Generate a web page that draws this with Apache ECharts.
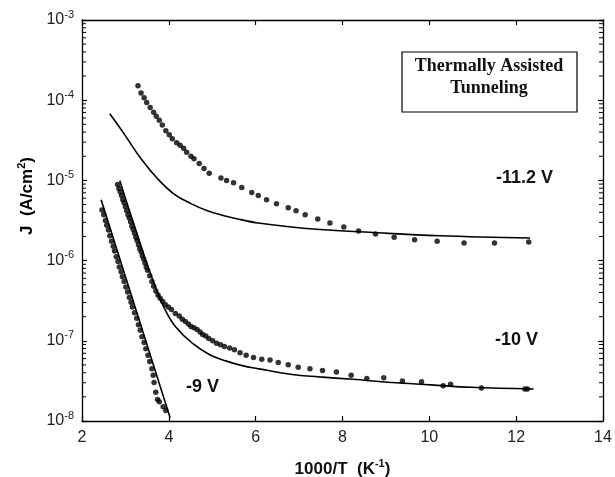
<!DOCTYPE html>
<html>
<head>
<meta charset="utf-8">
<script src="https://cdn.jsdelivr.net/npm/echarts@6/dist/echarts.min.js"></script>
<style>
html, body { margin: 0; padding: 0; background: #fff; }
#chart { width: 615px; height: 477px; }
</style>
</head>
<body>
<div id="chart"></div>
<script>
// values: x = 1000/T (1/K), y = J (A/cm2)

// -11.2 V measured points
var dotsAX = [3.29, 3.36, 3.43, 3.49, 3.57, 3.65, 3.71, 3.78, 3.85, 3.93, 4.01, 4.08, 4.18, 4.26, 4.34, 4.41, 4.51, 4.58, 4.70, 4.81, 4.93, 5.20, 5.33, 5.49, 5.68, 5.91, 6.06, 6.25, 6.48, 6.75, 6.93, 7.14, 7.43, 7.71, 8.03, 8.37, 8.76, 9.19, 9.66, 10.18, 10.80, 11.50, 12.29];
var dotsAY = [1.51e-4, 1.23e-4, 1.07e-4, 9.33e-5, 8.13e-5, 7.08e-5, 6.31e-5, 5.62e-5, 4.90e-5, 4.17e-5, 3.72e-5, 3.31e-5, 2.95e-5, 2.75e-5, 2.51e-5, 2.24e-5, 2.00e-5, 1.86e-5, 1.62e-5, 1.41e-5, 1.23e-5, 1.07e-5, 1.00e-5, 9.33e-6, 8.13e-6, 7.08e-6, 6.46e-6, 5.75e-6, 5.13e-6, 4.57e-6, 4.17e-6, 3.72e-6, 3.31e-6, 2.95e-6, 2.63e-6, 2.34e-6, 2.14e-6, 1.95e-6, 1.82e-6, 1.74e-6, 1.66e-6, 1.66e-6, 1.70e-6];
// -11.2 V model curve
var fitAX = [2.64, 2.97, 3.36, 3.74, 4.12, 4.51, 4.89, 5.27, 5.66, 6.04, 7.17, 8.71, 10.24, 12.32];
var fitAY = [6.76e-5, 3.80e-5, 1.86e-5, 1.05e-5, 6.76e-6, 5.13e-6, 4.17e-6, 3.63e-6, 3.24e-6, 2.95e-6, 2.51e-6, 2.24e-6, 2.04e-6, 1.91e-6];

// -10 V measured points
var dotsBX = [2.82, 2.85, 2.88, 2.91, 2.94, 2.97, 3.00, 3.03, 3.06, 3.09, 3.12, 3.15, 3.18, 3.21, 3.24, 3.27, 3.30, 3.33, 3.36, 3.39, 3.42, 3.45, 3.48, 3.51, 3.56, 3.61, 3.65, 3.70, 3.75, 3.80, 3.86, 3.92, 3.99, 4.06, 4.15, 4.24, 4.31, 4.38, 4.45, 4.51, 4.58, 4.65, 4.72, 4.78, 4.85, 4.92, 5.01, 5.10, 5.19, 5.28, 5.40, 5.51, 5.64, 5.78, 5.95, 6.14, 6.33, 6.52, 6.75, 6.98, 7.25, 7.54, 7.86, 8.20, 8.56, 8.95, 9.38, 9.82, 10.32, 10.49, 11.20, 12.20, 12.26];
var dotsBY = [8.91e-6, 7.94e-6, 7.24e-6, 6.46e-6, 5.75e-6, 5.25e-6, 4.68e-6, 4.17e-6, 3.72e-6, 3.39e-6, 3.02e-6, 2.69e-6, 2.45e-6, 2.19e-6, 1.95e-6, 1.78e-6, 1.58e-6, 1.41e-6, 1.29e-6, 1.15e-6, 1.05e-6, 9.33e-7, 8.32e-7, 7.59e-7, 6.46e-7, 5.50e-7, 4.79e-7, 4.17e-7, 3.72e-7, 3.39e-7, 3.09e-7, 2.82e-7, 2.63e-7, 2.45e-7, 2.19e-7, 2.04e-7, 1.86e-7, 1.74e-7, 1.62e-7, 1.51e-7, 1.45e-7, 1.38e-7, 1.29e-7, 1.20e-7, 1.15e-7, 1.07e-7, 1.00e-7, 9.33e-8, 8.91e-8, 8.51e-8, 8.13e-8, 7.76e-8, 7.08e-8, 6.61e-8, 6.17e-8, 5.89e-8, 5.75e-8, 5.37e-8, 5.01e-8, 4.68e-8, 4.47e-8, 4.27e-8, 4.07e-8, 3.72e-8, 3.39e-8, 3.47e-8, 3.16e-8, 3.09e-8, 2.75e-8, 2.88e-8, 2.57e-8, 2.51e-8, 2.51e-8];
// -10 V model curve
var fitBX = [2.87, 3.01, 3.24, 3.47, 3.70, 3.93, 4.15, 4.54, 4.93, 5.31, 5.69, 6.08, 6.84, 7.46, 8.23, 9.13, 10.04, 10.95, 12.40];
var fitBY = [1.00e-5, 5.75e-6, 2.40e-6, 1.00e-6, 4.57e-7, 2.34e-7, 1.51e-7, 9.33e-8, 6.76e-8, 5.62e-8, 4.90e-8, 4.47e-8, 3.80e-8, 3.55e-8, 3.31e-8, 3.02e-8, 2.82e-8, 2.63e-8, 2.51e-8];

// -9 V measured points
var dotsCX = [2.46, 2.50, 2.54, 2.57, 2.61, 2.64, 2.68, 2.72, 2.75, 2.79, 2.83, 2.86, 2.90, 2.93, 2.97, 3.01, 3.05, 3.09, 3.13, 3.16, 3.21, 3.26, 3.30, 3.34, 3.38, 3.43, 3.47, 3.52, 3.56, 3.61, 3.64, 3.66, 3.70, 3.74, 3.78, 3.87, 3.93];
var dotsCY = [4.27e-6, 3.72e-6, 3.16e-6, 2.75e-6, 2.40e-6, 2.04e-6, 1.74e-6, 1.51e-6, 1.32e-6, 1.12e-6, 9.77e-7, 8.32e-7, 7.24e-7, 6.31e-7, 5.50e-7, 4.68e-7, 4.07e-7, 3.47e-7, 3.02e-7, 2.63e-7, 2.24e-7, 1.91e-7, 1.58e-7, 1.35e-7, 1.12e-7, 9.55e-8, 7.94e-8, 6.61e-8, 5.50e-8, 4.47e-8, 3.72e-8, 3.02e-8, 2.29e-8, 1.86e-8, 1.74e-8, 1.51e-8, 1.35e-8];
// -9 V model line
var fitCX = [2.44, 3.24, 4.03];
var fitCY = [5.75e-6, 2.45e-7, 1.10e-8];

var xTicks = [2, 14, 2];           // min, max, step
var yRange = [1e-8, 1e-3];
// minor ticks of the log axis (2..9 in every decade)
var yMinorTicks = [
    2e-8, 3e-8, 4e-8, 5e-8, 6e-8, 7e-8, 8e-8, 9e-8,
    2e-7, 3e-7, 4e-7, 5e-7, 6e-7, 7e-7, 8e-7, 9e-7,
    2e-6, 3e-6, 4e-6, 5e-6, 6e-6, 7e-6, 8e-6, 9e-6,
    2e-5, 3e-5, 4e-5, 5e-5, 6e-5, 7e-5, 8e-5, 9e-5,
    2e-4, 3e-4, 4e-4, 5e-4, 6e-4, 7e-4, 8e-4, 9e-4
];

var SANS = 'Liberation Sans, Arial, sans-serif';
var SERIF = 'Liberation Serif, Times New Roman, serif';

function pairs(xs, ys){
    var out = [];
    for(var i=0; i<xs.length; i++){
        out.push([xs[i], ys[i]]);
    }
    return out;
}

//10^n tick label
function expLabel(v){
    var e = Math.round(Math.log(v)/Math.LN10);
    return '{b|10}{s|' + e + '}';
}

var tickRich = {
    b: {fontSize: 16, color: '#222', fontFamily: SANS, lineHeight: 22},
    s: {fontSize: 11, color: '#222', fontFamily: SANS, lineHeight: 12, verticalAlign: 'top'}
};
var nameRich = {
    a: {fontSize: 17, fontWeight: 'bold', color: '#111', fontFamily: SANS, lineHeight: 22},
    s: {fontSize: 11, fontWeight: 'bold', color: '#111', fontFamily: SANS, lineHeight: 12, verticalAlign: 'top'}
};

var frameLine = {lineStyle: {color: '#000', width: 1.3}};
var inTick = {inside: true, length: 5, lineStyle: {color: '#000', width: 1.2}};

function lineSeries(xs, ys, smooth){
    return {
        type: 'line',
        data: pairs(xs, ys),
        showSymbol: false,
        smooth: smooth,
        lineStyle: {color: '#000', width: 1.6},
        z: 3
    };
}
function dotSeries(xs, ys){
    return {
        type: 'scatter',
        data: pairs(xs, ys),
        symbol: 'circle',
        symbolSize: 5.5,
        itemStyle: {color: '#000'},
        z: 4
    };
}

//log minor ticks on both vertical frame lines
var minorTickSeries = {
    type: 'custom',
    silent: true,
    clip: false,
    z: 5,
    encode: {x: 0, y: 1},
    data: yMinorTicks.map(function(v){ return [xTicks[0], v]; }),
    renderItem: function(params, api){
        var v = api.value(1);
        var pl = api.coord([xTicks[0], v]);
        var pr = api.coord([xTicks[1], v]);
        var st = {stroke: '#000', lineWidth: 1, fill: null};
        return {
            type: 'group',
            children: [
                {type: 'line', shape: {x1: pl[0], y1: pl[1], x2: pl[0] + 4, y2: pl[1]}, style: st},
                {type: 'line', shape: {x1: pr[0] - 4, y1: pr[1], x2: pr[0], y2: pr[1]}, style: st}
            ]
        };
    }
};

var chart = echarts.init(document.getElementById('chart'));
var option = {
    animation: false,
    backgroundColor: '#fff',
    grid: {left: 82, right: 12, top: 20, bottom: 56, containLabel: false, outerBoundsMode: 'none'},
    xAxis: [{
        type: 'value', min: xTicks[0], max: xTicks[1], interval: xTicks[2],
        position: 'bottom',
        axisLine: frameLine, axisTick: inTick,
        axisLabel: {fontSize: 16, color: '#222', fontFamily: SANS, margin: 9},
        splitLine: {show: false},
        name: '{a|1000/T  (K}{s|-1}{a|)}',
        nameLocation: 'middle', nameGap: 37,
        nameTextStyle: {rich: nameRich}
    }, {
        type: 'value', min: xTicks[0], max: xTicks[1], interval: xTicks[2],
        position: 'top',
        axisLine: frameLine, axisTick: inTick,
        axisLabel: {show: false}, splitLine: {show: false}
    }],
    yAxis: [{
        type: 'log', logBase: 10, min: yRange[0], max: yRange[1],
        position: 'left',
        axisLine: {show: true, lineStyle: {color: '#000', width: 1.3}},
        axisTick: inTick,
        axisLabel: {formatter: expLabel, rich: tickRich, margin: 8},
        splitLine: {show: false}
    }, {
        type: 'log', logBase: 10, min: yRange[0], max: yRange[1],
        position: 'right',
        axisLine: {show: true, lineStyle: {color: '#000', width: 1.3}},
        axisTick: inTick,
        axisLabel: {show: false},
        splitLine: {show: false}
    }],
    series: [
        minorTickSeries,
        lineSeries(fitAX, fitAY, 0.4),
        lineSeries(fitBX, fitBY, 0.4),
        lineSeries(fitCX, fitCY, false),
        dotSeries(dotsAX, dotsAY),
        dotSeries(dotsBX, dotsBY),
        dotSeries(dotsCX, dotsCY)
    ],
    graphic: [
        {type: 'rect', shape: {x: 402, y: 52, width: 175, height: 60},
            style: {fill: '#fff', stroke: '#000', lineWidth: 1.2}, z: 10},
        {type: 'text', x: 489, y: 66, z: 11,
            style: {text: 'Thermally Assisted', font: 'bold 18px ' + SERIF, fill: '#111', align: 'center', verticalAlign: 'middle', textAlign: 'center', textVerticalAlign: 'middle'}},
        {type: 'text', x: 489, y: 88, z: 11,
            style: {text: 'Tunneling', font: 'bold 18px ' + SERIF, fill: '#111', align: 'center', verticalAlign: 'middle', textAlign: 'center', textVerticalAlign: 'middle'}},
        {type: 'text', x: 496, y: 178, z: 11,
            style: {text: '-11.2 V', font: 'bold 18px ' + SANS, fill: '#111', align: 'left', verticalAlign: 'middle', textAlign: 'left', textVerticalAlign: 'middle'}},
        {type: 'text', x: 495, y: 340, z: 11,
            style: {text: '-10 V', font: 'bold 18px ' + SANS, fill: '#111', align: 'left', verticalAlign: 'middle', textAlign: 'left', textVerticalAlign: 'middle'}},
        {type: 'text', x: 186, y: 387, z: 11,
            style: {text: '-9 V', font: 'bold 18px ' + SANS, fill: '#111', align: 'left', verticalAlign: 'middle', textAlign: 'left', textVerticalAlign: 'middle'}},
        {type: 'text', x: 27, y: 196, rotation: Math.PI / 2, z: 11,
            style: {text: '{a|J  (A/cm}{s|2}{a|)}', rich: nameRich, align: 'center', verticalAlign: 'middle', textAlign: 'center', textVerticalAlign: 'middle'}}
    ]
};
chart.setOption(option);
</script>
</body>
</html>
